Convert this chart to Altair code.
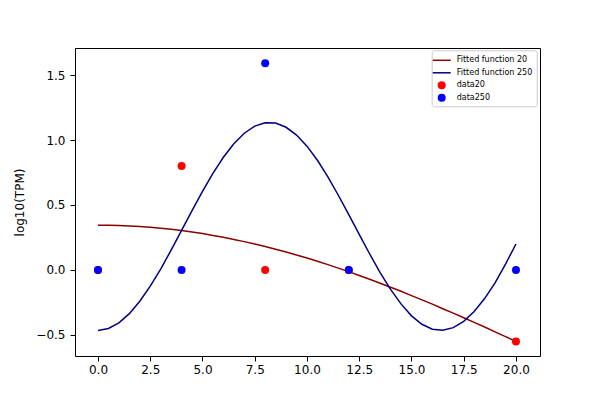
import altair as alt
import pandas as pd

# scatter data
x_data = [0, 4, 8, 12, 20]
y_data20 = [0.0, 0.8, 0.0, 0.0, -0.55]
y_data250 = [0.0, 0.0, 1.59, 0.0, 0.0]

# fitted curves
x_fit = [i * 0.5 for i in range(41)]
y_fit20 = [0.345, 0.344, 0.342, 0.339, 0.334, 0.329, 0.321, 0.313, 0.303, 0.292,
           0.280, 0.266, 0.251, 0.235, 0.218, 0.200, 0.180, 0.160, 0.138, 0.115,
           0.092, 0.067, 0.041, 0.014, -0.013, -0.042, -0.071, -0.102, -0.133, -0.164,
           -0.197, -0.230, -0.263, -0.298, -0.332, -0.368, -0.403, -0.439, -0.476, -0.513,
           -0.550]
y_fit250 = [-0.465, -0.450, -0.407, -0.336, -0.241, -0.125, 0.007, 0.153, 0.304, 0.457,
            0.605, 0.744, 0.867, 0.971, 1.052, 1.107, 1.133, 1.130, 1.098, 1.038,
            0.953, 0.844, 0.716, 0.575, 0.426, 0.274, 0.123, -0.020, -0.149, -0.261,
            -0.353, -0.418, -0.456, -0.464, -0.444, -0.395, -0.319, -0.220, -0.099, 0.045,
            0.200]

line_names = ["Fitted function 20", "Fitted function 250"]
line_colors = ["#8b0000", "#000080"]
point_names = ["data20", "data250"]
point_colors = ["#ff0000", "#0000ff"]

lines = pd.DataFrame({
    "x": x_fit + x_fit,
    "y": y_fit20 + y_fit250,
    "series": [line_names[0]] * len(x_fit) + [line_names[1]] * len(x_fit),
})
points = pd.DataFrame({
    "x": x_data + x_data,
    "y": y_data20 + y_data250,
    "series": [point_names[0]] * len(x_data) + [point_names[1]] * len(x_data),
})

# one framed legend listing every entry (point rows get no line symbol) ...
legend_all = alt.Legend(
    title=None, orient="none", legendX=356.7, legendY=2.3, zindex=0,
    labelFontSize=8, labelFont="DejaVu Sans", labelColor="black", labelOffset=9,
    strokeColor="#cccccc", fillColor="white", padding=4, cornerRadius=2,
    rowPadding=2.5, symbolSize=100, symbolType="M-1.8,0H1.8", symbolStrokeWidth=1.5,
    symbolOffset=0,
)
# ... and a label-less legend that puts the dot symbols into those rows
legend_dots = alt.Legend(
    title=None, orient="none", legendX=362.7, legendY=33.3, zindex=1,
    labelExpr="''", labelFontSize=8,
    padding=0, rowPadding=4.5, symbolSize=64, symbolType="circle", symbolOpacity=1,
    symbolStrokeWidth=0,
)

xenc = alt.X("x:Q", scale=alt.Scale(domain=[-1.1, 21.15], nice=False, zero=False),
             axis=alt.Axis(values=[0, 2.5, 5, 7.5, 10, 12.5, 15, 17.5, 20], format=".1f",
                           title=None, labelPadding=3))
yenc = alt.Y("y:Q", scale=alt.Scale(domain=[-0.662, 1.708], nice=False, zero=False),
             axis=alt.Axis(values=[-0.5, 0, 0.5, 1.0, 1.5], format=".1f", title="log10(TPM)",
                           labelPadding=5, titlePadding=9))

line_layer = alt.Chart(lines).mark_line(strokeWidth=1.5).encode(
    x=xenc, y=yenc,
    color=alt.Color("series:N",
                    scale=alt.Scale(domain=line_names + point_names,
                                    range=line_colors + ["transparent", "transparent"]),
                    legend=legend_all),
)
point_layer = alt.Chart(points).mark_circle(size=64, opacity=1).encode(
    x="x:Q", y="y:Q",
    fill=alt.Fill("series:N", scale=alt.Scale(domain=point_names, range=point_colors),
                  legend=legend_dots),
)

chart = alt.layer(line_layer, point_layer).properties(
    width=465, height=308,
    background="white",
    autosize=alt.AutoSizeParams(type="none"),
    padding={"left": 67, "top": 40, "right": 52, "bottom": 36},
).configure_view(stroke="black", strokeWidth=1).configure_axis(
    grid=False, domain=False, tickColor="black", tickSize=5, tickWidth=1,
    labelFont="DejaVu Sans", labelFontSize=12, labelColor="black",
    titleFont="DejaVu Sans", titleFontSize=12, titleFontWeight="normal", titleColor="black",
)

chart.save("out.html", embed_options={"renderer": "svg", "actions": False})
